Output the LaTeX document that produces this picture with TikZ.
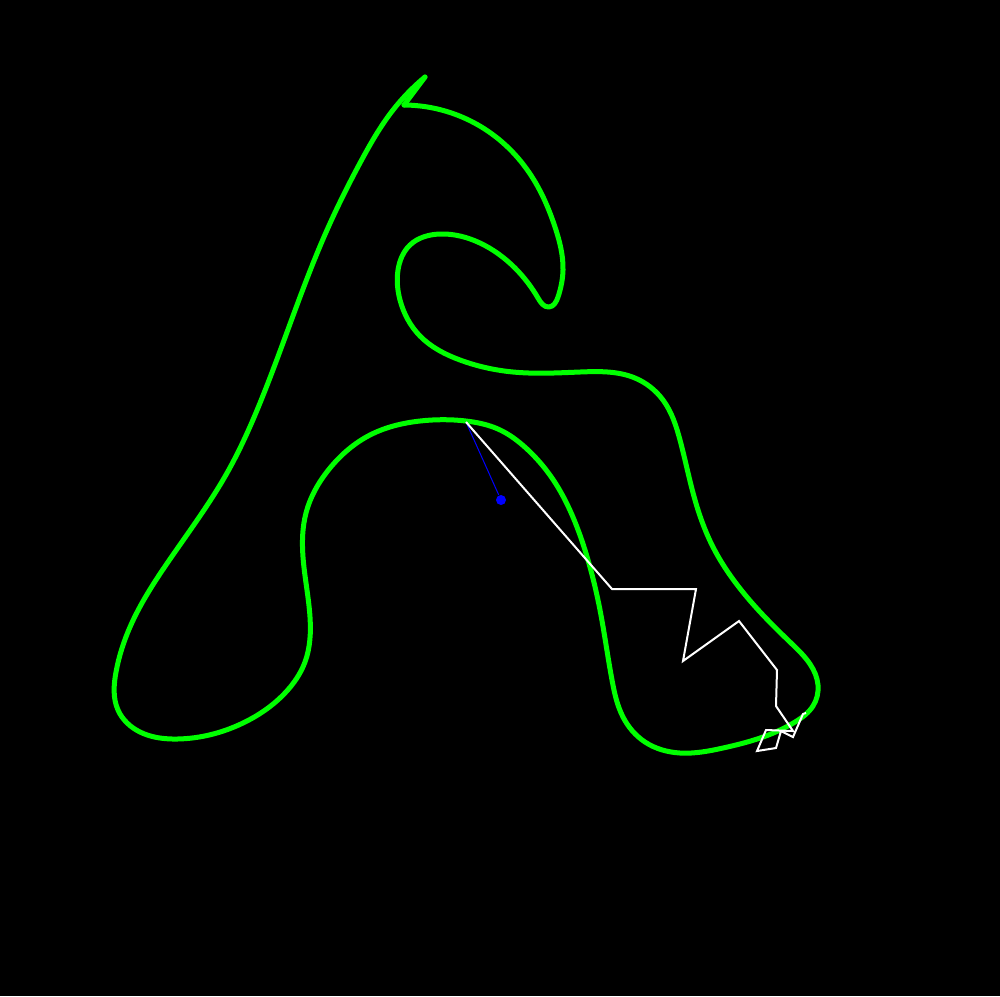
\documentclass[tikz,border=0pt]{standalone}
\usepackage{xcolor}
\usetikzlibrary{positioning,calc,hobby}

\tikzset{
  outline/.style={draw=green, line width=0.5mm, line join=round, line cap=round},
  trail/.style={draw=white, line width=0.2mm, line join=miter},
  bobline/.style={draw=blue, line width=0.1mm},
  bob/.style={circle, fill=blue, inner sep=0pt, minimum size=1mm}
}

\begin{document}
\begin{tikzpicture}[x=0.01cm, y=-0.01cm]
    % Background
    \fill[black] (0,0) rectangle (1000,996);

    % Closed curve
    \draw[outline, use Hobby shortcut] (404,105) .. (462,117) .. (492,134)
        .. (518,158) .. (538,187) .. (555,227) .. (563,270) .. (558,297)
        .. (549,307) .. (538,298) .. (515,268) .. (480,243) .. (440,234)
        .. (410,245) .. (398,270) .. (400,300) .. (420,336) .. (460,360)
        .. (513,372) .. (580,372) .. (635,378) .. (663,400) .. (680,440)
        .. (695,500) .. (713,547) .. (735,582) .. (762,614) .. (791,643)
        .. (810,664) .. (818,685) .. (813,706) .. (795,722) .. (763,737)
        .. (723,748) .. (680,753) .. (645,742) .. (623,717) .. (612,680)
        .. (600,610) .. (588,560) .. (575,522) .. (552,478) .. (527,449)
        .. (498,429) .. (466,421) .. (420,421) .. (370,435) .. (330,468)
        .. (306,513) .. (303,557) .. (310,617) .. (305,662) .. (285,693)
        .. (243,723) .. (177,739) .. (140,732) .. (118,710) .. (116,672)
        .. (130,627) .. (168,562) .. (227,473) .. (260,403) .. (300,297)
        .. (327,230) .. (360,163) .. (393,110) .. (425,77);
    \draw[outline] (425,77) -- (404,105);

    % Pendulum
    \coordinate (touch) at (466,422);
    \node[bob] (weight) at (501,500) {};
    \draw[bobline] (touch) -- (weight);

    % Trail
    \draw[trail] (touch) -- (612,589) -- (696,589) -- (683,661) -- (739,621)
        -- (777,670) -- (776,706) -- (793,731) -- (766,730) -- (757,751)
        -- (776,748) -- (781,731) -- (793,737) -- (803,714) -- (806,713);
\end{tikzpicture}
\end{document}
